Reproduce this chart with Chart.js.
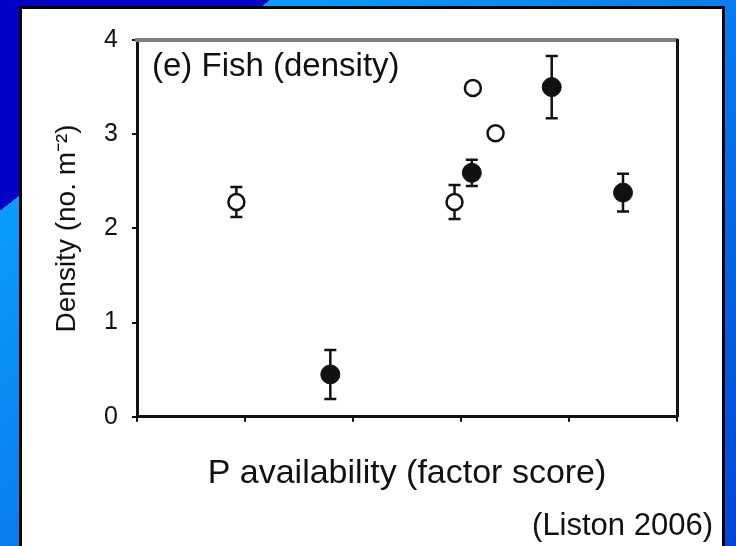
<!DOCTYPE html>
<html>
<head>
<meta charset="utf-8">
<script src="https://cdn.jsdelivr.net/npm/chart.js@4"></script>
<style>
	body {
		margin: 0;
		width: 736px;
		height: 546px;
		overflow: hidden;
		background: linear-gradient(142deg, #0000c8 0%, #0000c8 18.8%, #0a9cff 18.8%, #0878ec 55%, #0046d8 100%);
	}
	.painel {
		position: absolute;
		left: 19px;
		top: 6px;
		width: 706px;
		height: 560px;
		box-sizing: border-box;
		background: #fff;
		border: 3px solid #000;
		border-bottom: none;
	}
	#grafico {
		position: absolute;
		left: 0;
		top: 0;
	}
</style>
</head>
<body>
<div class="painel"></div>
<canvas id="grafico" width="736" height="546"></canvas>
<script>
// valores (Liston 2006)
const abertoX = [0.92, 2.94, 3.11, 3.32]
const abertoY = [2.28, 2.28, 3.49, 3.01]
const abertoErro = [0.16, 0.18, 0, 0]

const cheioX = [1.79, 3.10, 3.84, 4.50]
const cheioY = [0.45, 2.59, 3.50, 2.38]
const cheioErro = [0.26, 0.14, 0.33, 0.20]

const yTicks = [0, 1, 2, 3, 4]
const xTicks = [0, 1, 2, 3, 4, 5]

const FONTE = '"Liberation Sans", Arial, sans-serif'
const PRETO = "#111"

function pontos(xs, ys) {
	return xs.map((x, i) => ({ x: x, y: ys[i] }))
}

// barras de erro desenhadas antes dos pontos (o circulo branco cobre a barra)
var barrasErro = {
	id: "barrasErro",
	beforeDatasetsDraw(chart) {
		const ctx = chart.ctx
		const sx = chart.scales.x
		const sy = chart.scales.y
		const erros = [abertoErro, cheioErro]
		ctx.save()
		ctx.strokeStyle = PRETO
		ctx.lineWidth = 2.5
		chart.data.datasets.forEach((ds, d) => {
			ds.data.forEach((p, i) => {
				let e = erros[d][i]
				if (!e) return
				let px = sx.getPixelForValue(p.x)
				let topo = sy.getPixelForValue(p.y + e)
				let base = sy.getPixelForValue(p.y - e)
				ctx.beginPath()
				ctx.moveTo(px, topo)
				ctx.lineTo(px, base)
				ctx.moveTo(px - 6, topo)
				ctx.lineTo(px + 6, topo)
				ctx.moveTo(px - 6, base)
				ctx.lineTo(px + 6, base)
				ctx.stroke()
			})
		})
		ctx.restore()
	}
}

var rotulo = {
	id: "rotulo",
	afterDraw(chart) {
		const ctx = chart.ctx
		ctx.save()
		ctx.font = "33px " + FONTE
		ctx.fillStyle = PRETO
		ctx.textBaseline = "middle"
		ctx.fillText("(e) Fish (density)", chart.chartArea.left + 15, chart.chartArea.top + 27)
		ctx.restore()
	}
}

var grafico = new Chart(document.getElementById("grafico"), {
	type: "scatter",
	data: {
		datasets: [
			{
				data: pontos(abertoX, abertoY),
				pointRadius: 8,
				pointBorderWidth: 2.5,
				pointBackgroundColor: "#fff",
				pointBorderColor: PRETO,
			},
			{
				data: pontos(cheioX, cheioY),
				pointRadius: 9.5,
				pointBorderWidth: 1,
				pointBackgroundColor: PRETO,
				pointBorderColor: PRETO,
			},
		],
	},
	options: {
		responsive: false,
		devicePixelRatio: 1,
		animation: false,
		layout: { padding: { left: 50, right: 23, top: 0, bottom: 0 } },
		plugins: {
			legend: { display: false },
			tooltip: { enabled: false },
			title: {
				display: true,
				position: "bottom",
				align: "end",
				text: "(Liston 2006)",
				color: PRETO,
				font: { family: FONTE, size: 31, weight: "normal" },
				padding: { top: 13, bottom: 1 },
			},
		},
		scales: {
			x: {
				type: "linear",
				position: "bottom",
				min: 0,
				max: 5,
				afterBuildTicks: (s) => { s.ticks = xTicks.map((v) => ({ value: v })) },
				afterFit: (s) => { s.height = 78 },
				ticks: { display: false },
				grid: { drawOnChartArea: false, drawTicks: true, tickLength: 5, color: PRETO, lineWidth: 2 },
				border: { display: true, color: PRETO, width: 3 },
				title: {
					display: true,
					text: "P availability (factor score)",
					color: PRETO,
					font: { family: FONTE, size: 34 },
					padding: { top: 0, bottom: 1 },
				},
			},
			y: {
				type: "linear",
				position: "left",
				min: 0,
				max: 4,
				afterBuildTicks: (s) => { s.ticks = yTicks.map((v) => ({ value: v })) },
				afterFit: (s) => { s.width = 87 },
				ticks: { color: PRETO, padding: 14, font: { family: FONTE, size: 25 } },
				grid: { drawOnChartArea: false, drawTicks: true, tickLength: 5, color: PRETO, lineWidth: 2 },
				border: { display: true, color: PRETO, width: 3 },
				title: {
					display: true,
					text: "Density (no. m⁻²)",
					color: PRETO,
					font: { family: FONTE, size: 28 },
					padding: { top: 0, bottom: 0 },
				},
			},
			// moldura de cima (cinza) e da direita
			x2: {
				type: "linear",
				position: "top",
				min: 0,
				max: 5,
				afterFit: (s) => { s.height = 40 },
				ticks: { display: false },
				grid: { display: false },
				border: { display: true, color: "#808080", width: 4 },
			},
			y2: {
				type: "linear",
				position: "right",
				min: 0,
				max: 4,
				afterFit: (s) => { s.width = 36 },
				ticks: { display: false },
				grid: { display: false },
				border: { display: true, color: PRETO, width: 3 },
			},
		},
	},
	plugins: [barrasErro, rotulo],
})
</script>
</body>
</html>
